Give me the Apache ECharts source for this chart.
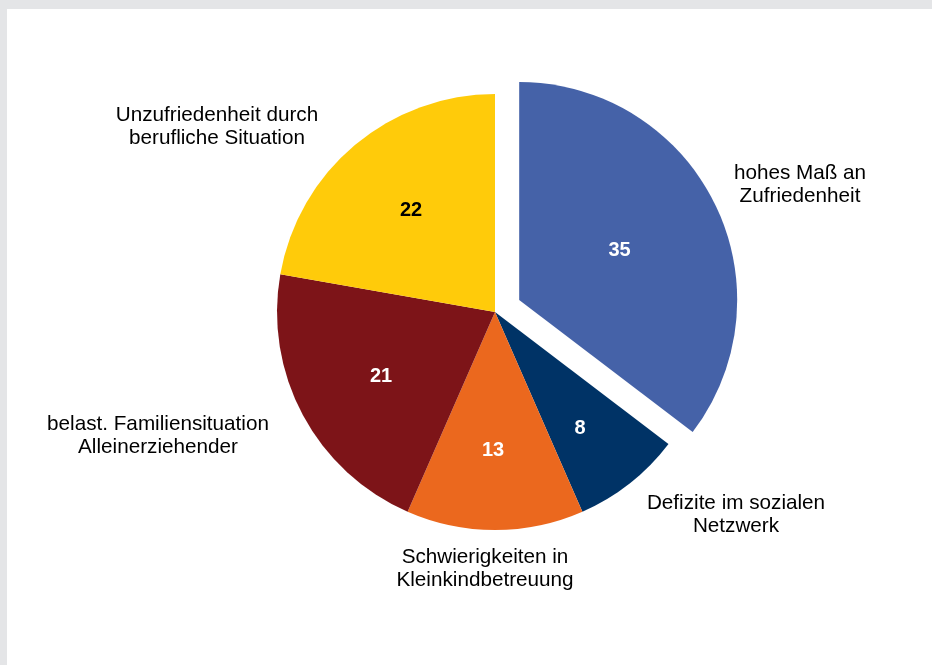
<!DOCTYPE html>
<html>
<head>
<meta charset="utf-8">
<script src="https://cdn.jsdelivr.net/npm/echarts@6/dist/echarts.min.js"></script>
<style>
  html, body { margin: 0; padding: 0; background: #e4e5e7; }
  #chart { width: 932px; height: 665px; }
</style>
</head>
<body>
<div id="chart"></div>
<script>
// data
var categories = [
  'hohes Maß an\nZufriedenheit',
  'Defizite im sozialen\nNetzwerk',
  'Schwierigkeiten in\nKleinkindbetreuung',
  'belast. Familiensituation\nAlleinerziehender',
  'Unzufriedenheit durch\nberufliche Situation'
];
var values = [35, 8, 13, 21, 22];
var colors = ['#4562a8', '#003366', '#eb681e', '#7d1418', '#ffcb0a'];
var valueColors = ['#fff', '#fff', '#fff', '#fff', '#000'];

// label placement (pixels)
var valuePos = [[623, 251], [580, 428], [493, 450], [381, 376], [411, 210]];
var namePos = [[800, 185], [736, 515], [485, 569], [158, 436], [217, 127]];

var chart = echarts.init(document.getElementById('chart'));

var pieData = values.map(function (v, i) {
  return {
    name: categories[i],
    value: v,
    selected: i === 0,
    itemStyle: { color: colors[i] },
    label: { color: valueColors[i], offset: i === 0 ? [4, 2] : [0, 0] }
  };
});

var nameData = values.map(function (v, i) {
  return { name: categories[i], value: v };
});

var option = {
  backgroundColor: '#e4e5e7',
  animation: false,
  graphic: [{
    type: 'rect',
    shape: { x: 7, y: 9, width: 925, height: 656 },
    style: { fill: '#ffffff' },
    silent: true,
    z: -10
  }],
  series: [
    {
      type: 'pie',
      center: [495, 312],
      radius: 218,
      startAngle: 90,
      clockwise: true,
      selectedMode: 'single',
      selectedOffset: 27,
      silent: true,
      emphasis: { disabled: true },
      label: {
        show: true,
        position: 'inside',
        formatter: '{c}',
        fontFamily: 'Liberation Sans, Arial, sans-serif',
        fontWeight: 'bold',
        fontSize: 20
      },
      labelLine: { show: false },
      labelLayout: function (p) {
        var pos = valuePos[p.dataIndex];
        return { x: pos[0], y: pos[1], align: 'center', verticalAlign: 'middle' };
      },
      data: pieData
    },
    {
      type: 'pie',
      center: [495, 312],
      radius: 218,
      startAngle: 90,
      clockwise: true,
      silent: true,
      emphasis: { disabled: true },
      itemStyle: { color: 'rgba(0,0,0,0)' },
      label: {
        show: true,
        position: 'outside',
        formatter: '{b}',
        color: '#000',
        fontFamily: 'Liberation Sans, Arial, sans-serif',
        fontSize: 20.7,
        lineHeight: 23,
        align: 'center'
      },
      labelLine: { show: false },
      labelLayout: function (p) {
        var pos = namePos[p.dataIndex];
        return { x: pos[0], y: pos[1], align: 'center', verticalAlign: 'middle' };
      },
      data: nameData
    }
  ]
};

chart.setOption(option);
</script>
</body>
</html>
